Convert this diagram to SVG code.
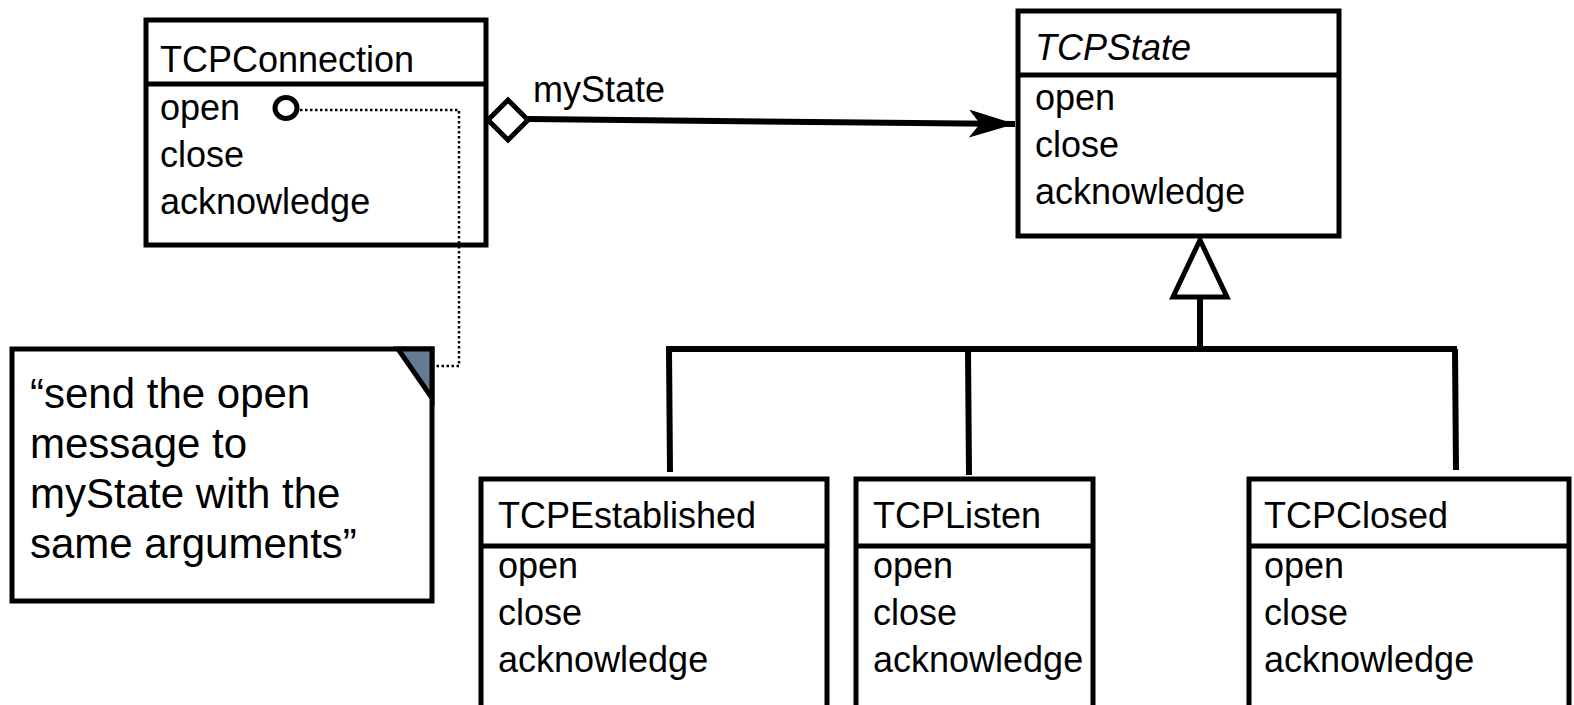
<svg xmlns="http://www.w3.org/2000/svg" width="1574" height="705" viewBox="0 0 1574 705">
<style>
.box{fill:#fff;stroke:#000;stroke-width:5}
.div{stroke:#000;stroke-width:5}
.t{font-family:"Liberation Sans",Arial,sans-serif;font-size:36px;fill:#000}
.n{font-family:"Liberation Sans",Arial,sans-serif;font-size:42px;fill:#000}
.ln{fill:none;stroke:#000;stroke-width:6}
.dot{fill:none;stroke:#000;stroke-width:2.5;stroke-dasharray:2.5 2.5}
</style>
<defs>
<marker id="arr" markerUnits="userSpaceOnUse" markerWidth="50" markerHeight="32" refX="46" refY="14" orient="auto">
<path d="M0,0 L46,14 L0,28 L11,14 Z" fill="#000"/>
</marker>
</defs>
<rect width="1574" height="705" fill="#fff"/>
<g id="TCPConnection">
<rect class="box" x="146" y="20" width="340" height="225"/>
<line class="div" x1="146" y1="84" x2="486" y2="84"/>
<text class="t" x="160" y="72">TCPConnection</text>
<text class="t" x="160" y="120">open</text>
<ellipse cx="286" cy="108" rx="11" ry="10.5" fill="none" stroke="#000" stroke-width="5"/>
<text class="t" x="160" y="167">close</text>
<text class="t" x="160" y="214">acknowledge</text>
</g>
<g id="TCPState">
<rect class="box" x="1018" y="11" width="321" height="225"/>
<line class="div" x1="1018" y1="75" x2="1339" y2="75"/>
<text class="t" x="1035" y="60" font-style="italic">TCPState</text>
<text class="t" x="1035" y="110">open</text>
<text class="t" x="1035" y="157">close</text>
<text class="t" x="1035" y="204">acknowledge</text>
</g>
<g id="note">
<rect class="box" x="12" y="349" width="420" height="252"/>
<polygon points="398,349 432,349 432,398" fill="#667a96" stroke="#000" stroke-width="5" stroke-linejoin="miter"/>
<text class="n" x="30" y="408">“send the open</text>
<text class="n" x="30" y="458">message to</text>
<text class="n" x="30" y="508">myState with the</text>
<text class="n" x="30" y="558">same arguments”</text>
</g>
<g id="TCPEstablished">
<rect class="box" x="481" y="479" width="346" height="240"/>
<line class="div" x1="481" y1="546" x2="827" y2="546"/>
<text class="t" x="498" y="528">TCPEstablished</text>
<text class="t" x="498" y="578">open</text>
<text class="t" x="498" y="625">close</text>
<text class="t" x="498" y="672">acknowledge</text>
</g>
<g id="TCPListen">
<rect class="box" x="856" y="479" width="237" height="240"/>
<line class="div" x1="856" y1="546" x2="1093" y2="546"/>
<text class="t" x="873" y="528">TCPListen</text>
<text class="t" x="873" y="578">open</text>
<text class="t" x="873" y="625">close</text>
<text class="t" x="873" y="672">acknowledge</text>
</g>
<g id="TCPClosed">
<rect class="box" x="1249" y="479" width="320" height="240"/>
<line class="div" x1="1249" y1="546" x2="1569" y2="546"/>
<text class="t" x="1264" y="528">TCPClosed</text>
<text class="t" x="1264" y="578">open</text>
<text class="t" x="1264" y="625">close</text>
<text class="t" x="1264" y="672">acknowledge</text>
</g>
<g id="connectors">
<path class="dot" d="M300,110 H459 V366 H436"/>
<path class="ln" d="M528,119 L1015,124" marker-end="url(#arr)"/>
<text class="t" x="533" y="102">myState</text>
<path class="ln" d="M1200,298 V349"/>
<path class="ln" d="M666,349 H1457"/>
<path class="ln" d="M669,349 L670,472"/>
<path class="ln" d="M968,349 L969,475"/>
<path class="ln" d="M1455,349 L1456,470"/>
<polygon points="1200,240 1173,297 1227,297" fill="#fff" stroke="#000" stroke-width="5"/>
<polygon points="488,120 508,100 528,120 508,140" fill="#fff" stroke="#000" stroke-width="5"/>
</g>
</svg>
